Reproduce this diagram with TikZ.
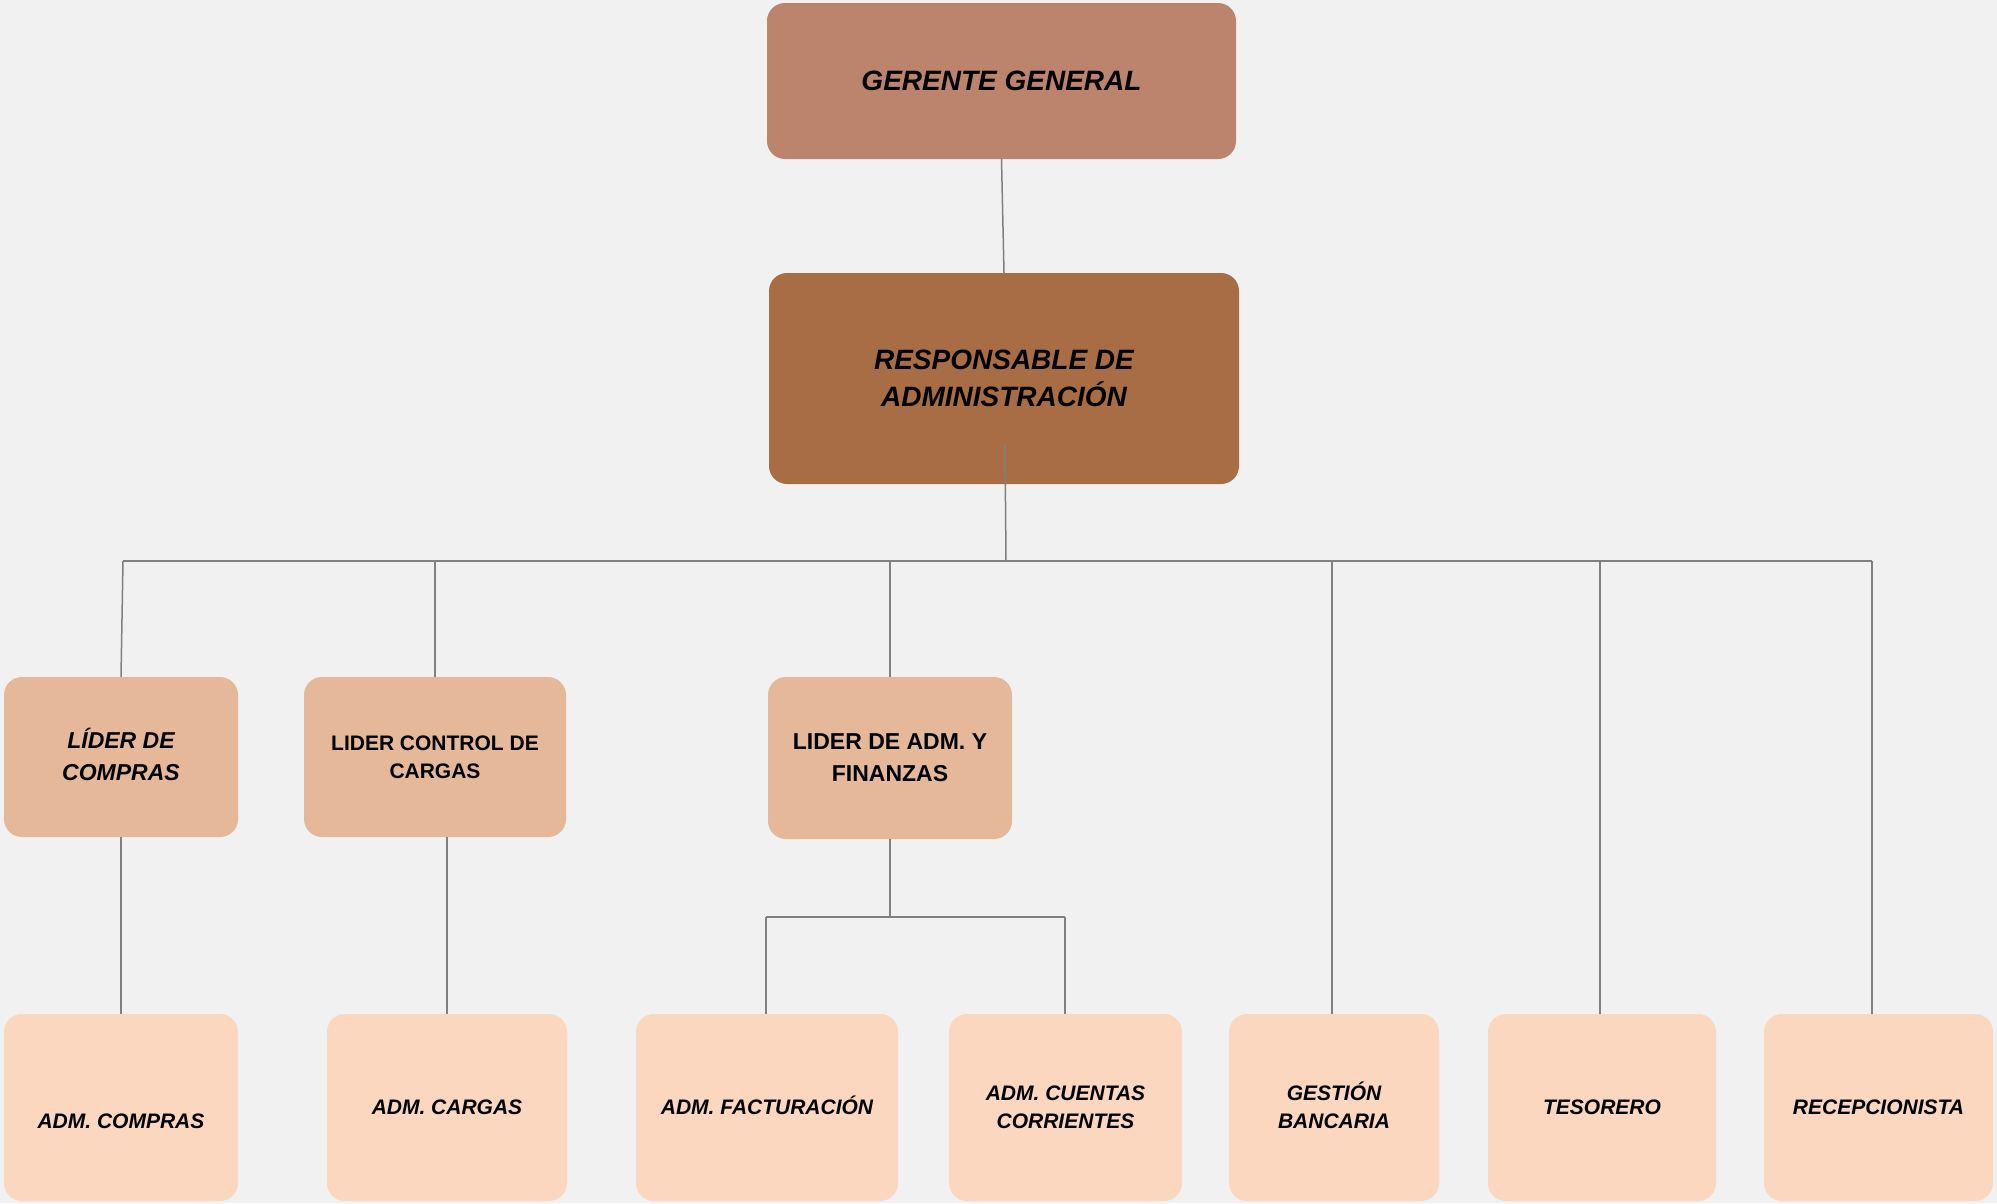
\documentclass[tikz,border=0pt]{standalone}
\usepackage{fontspec}
\setmainfont{Liberation Sans}
\definecolor{bgc}{RGB}{241,241,241}
\definecolor{topc}{RGB}{188,132,108}
\definecolor{rac}{RGB}{168,109,69}
\definecolor{midc}{RGB}{228,184,153}
\definecolor{lowc}{RGB}{250,215,190}
\definecolor{linec}{RGB}{128,128,128}
\begin{document}
\begin{tikzpicture}[x=1pt,y=-1pt,
  box/.style={rectangle,rounded corners=18pt,inner sep=0pt,align=center,text=black},
  topbox/.style={box,fill=topc,font=\fontsize{28}{37}\selectfont\bfseries\itshape},
  rabox/.style={box,fill=rac,font=\fontsize{28}{37}\selectfont\bfseries\itshape},
  midbox/.style={box,fill=midc,minimum height=160pt},
  lowbox/.style={box,fill=lowc,minimum height=187pt,font=\fontsize{21}{28}\selectfont\bfseries\itshape},
  conn/.style={draw=linec,line width=1.5pt}
]
\fill[bgc] (0,0) rectangle (1997,1203);
\useasboundingbox (0,0) rectangle (1997,1203);

\node[topbox,minimum width=469pt,minimum height=156pt] (gg) at (1001.5,81) {GERENTE GENERAL};
\node[rabox,minimum width=470pt,minimum height=211pt] (ra) at (1004,378.5) {RESPONSABLE DE\\ADMINISTRACIÓN};

\node[midbox,minimum width=234pt,font=\fontsize{23}{32}\selectfont\bfseries\itshape] (b1) at (121,757) {L\smash{Í}DER DE\\COMPRAS};
\node[midbox,minimum width=262pt,font=\fontsize{21}{28}\selectfont\bfseries] (b2) at (435,757) {LIDER CONTROL DE\\CARGAS};
\node[midbox,minimum width=244pt,minimum height=162pt,font=\fontsize{23}{32}\selectfont\bfseries] (b3) at (890,758) {LIDER DE ADM. Y\\FINANZAS};

\node[lowbox,minimum width=234pt] (c1) at (121,1107.5) {\vphantom{A}\\ADM. COMPRAS};
\node[lowbox,minimum width=240pt] (c2) at (447,1107.5) {ADM. CARGAS};
\node[lowbox,minimum width=262pt] (c3) at (767,1107.5) {ADM. FACTURACI\smash{Ó}N};
\node[lowbox,minimum width=233pt] (c4) at (1065.5,1107.5) {ADM. CUENTAS\\CORRIENTES};
\node[lowbox,minimum width=210pt] (c5) at (1334,1107.5) {GESTI\smash{Ó}N\\BANCARIA};
\node[lowbox,minimum width=228pt] (c6) at (1602,1107.5) {TESORERO};
\node[lowbox,minimum width=229pt] (c7) at (1878.5,1107.5) {RECEPCIONISTA};

\coordinate (rain) at (1005,445);
\coordinate (busc) at (1006,561);
\coordinate (busl) at (123,561);
\coordinate (busr) at (1872,561);
\coordinate (bus5) at (1332,561);
\coordinate (bus6) at (1600,561);
\coordinate (subl) at (766,917);
\coordinate (subr) at (1065,917);

\draw[conn] (gg.south) -- (ra.north);
\draw[conn] (rain) -- (busc);
\draw[conn] (busl) -- (busr);
\draw[conn] (busl) -- (b1.north);
\draw[conn] (b2.north |- busl) -- (b2.north);
\draw[conn] (b3.north |- busl) -- (b3.north);
\draw[conn] (bus5) -- (bus5 |- c5.north);
\draw[conn] (bus6) -- (bus6 |- c6.north);
\draw[conn] (busr) -- (busr |- c7.north);

\draw[conn] (b1.south) -- (c1.north);
\draw[conn] (c2.north |- b2.south) -- (c2.north);
\draw[conn] (b3.south) -- (b3.south |- subl);
\draw[conn] (subl) -- (subr);
\draw[conn] (subl) -- (subl |- c3.north);
\draw[conn] (subr) -- (subr |- c4.north);
\end{tikzpicture}
\end{document}
